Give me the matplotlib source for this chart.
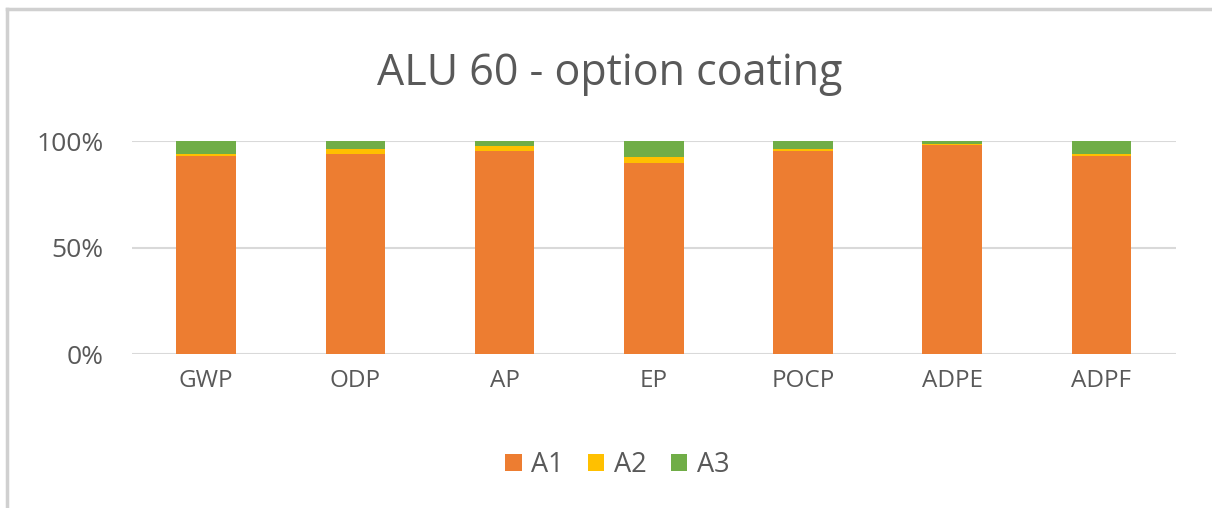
import numpy as np
import matplotlib
matplotlib.use('agg')
import matplotlib.pyplot as plt
from matplotlib.lines import Line2D
import matplotlib.ticker as mticker

categories = ["GWP", "ODP", "AP", "EP", "POCP", "ADPE", "ADPF"]
a1 = [93.0, 94.0, 95.5, 90.0, 95.5, 98.0, 93.0]
a2 = [1.0, 2.2, 2.2, 2.6, 0.8, 0.9, 0.9]
a3 = [6.0, 3.8, 2.3, 7.4, 3.7, 1.1, 6.1]

series = [("A1", a1, "#ed7d31"), ("A2", a2, "#ffc000"), ("A3", a3, "#70ad47")]

plt.rcParams['font.family'] = ['Open Sans', 'DejaVu Sans']

fig = plt.figure(figsize=(12.12, 5.08), dpi=100)
ax = fig.add_axes([0.1086, 0.303, 0.8617, 0.419])

x = np.arange(len(categories))
bottom = np.zeros(len(categories))
for name, vals, color in series:
    share = np.array(vals) / 100.0
    ax.bar(x, share, bottom=bottom, width=0.4, color=color, label=name, zorder=3)
    bottom += share

ax.set_xlim(-0.5, len(categories) - 0.5)
ax.set_ylim(0, 1)
ax.set_yticks([0, 0.5, 1.0])
ax.yaxis.set_major_formatter(mticker.PercentFormatter(1.0, decimals=0))
ax.set_xticks(x)
ax.set_xticklabels(categories)
ax.grid(axis='y', color='#d9d9d9', linewidth=1.5, zorder=0)
for s in ax.spines.values():
    s.set_visible(False)
ax.tick_params(axis='both', length=0, colors='#595959')
ax.tick_params(axis='y', labelsize=19, pad=20)
ax.tick_params(axis='x', labelsize=17.5, pad=11)

fig.text(0.503, 0.855, "ALU 60 - option coating", ha='center', va='center',
         fontsize=31, color='#595959')

ax.legend(loc='center', bbox_to_anchor=(0.465, -0.52), ncol=3, frameon=False,
          fontsize=19.5, labelcolor='#595959', handlelength=0.6, handleheight=0.6,
          handletextpad=0.35, columnspacing=0.9)

# outer chart frame (top and left edges)
fig.add_artist(Line2D([7 / 1212, 1], [1 - 9 / 508, 1 - 9 / 508], color='#d0d0d0', lw=2.5))
fig.add_artist(Line2D([7 / 1212, 7 / 1212], [0, 1 - 9 / 508], color='#d0d0d0', lw=2.5))

fig.savefig("out.png", dpi=100)
